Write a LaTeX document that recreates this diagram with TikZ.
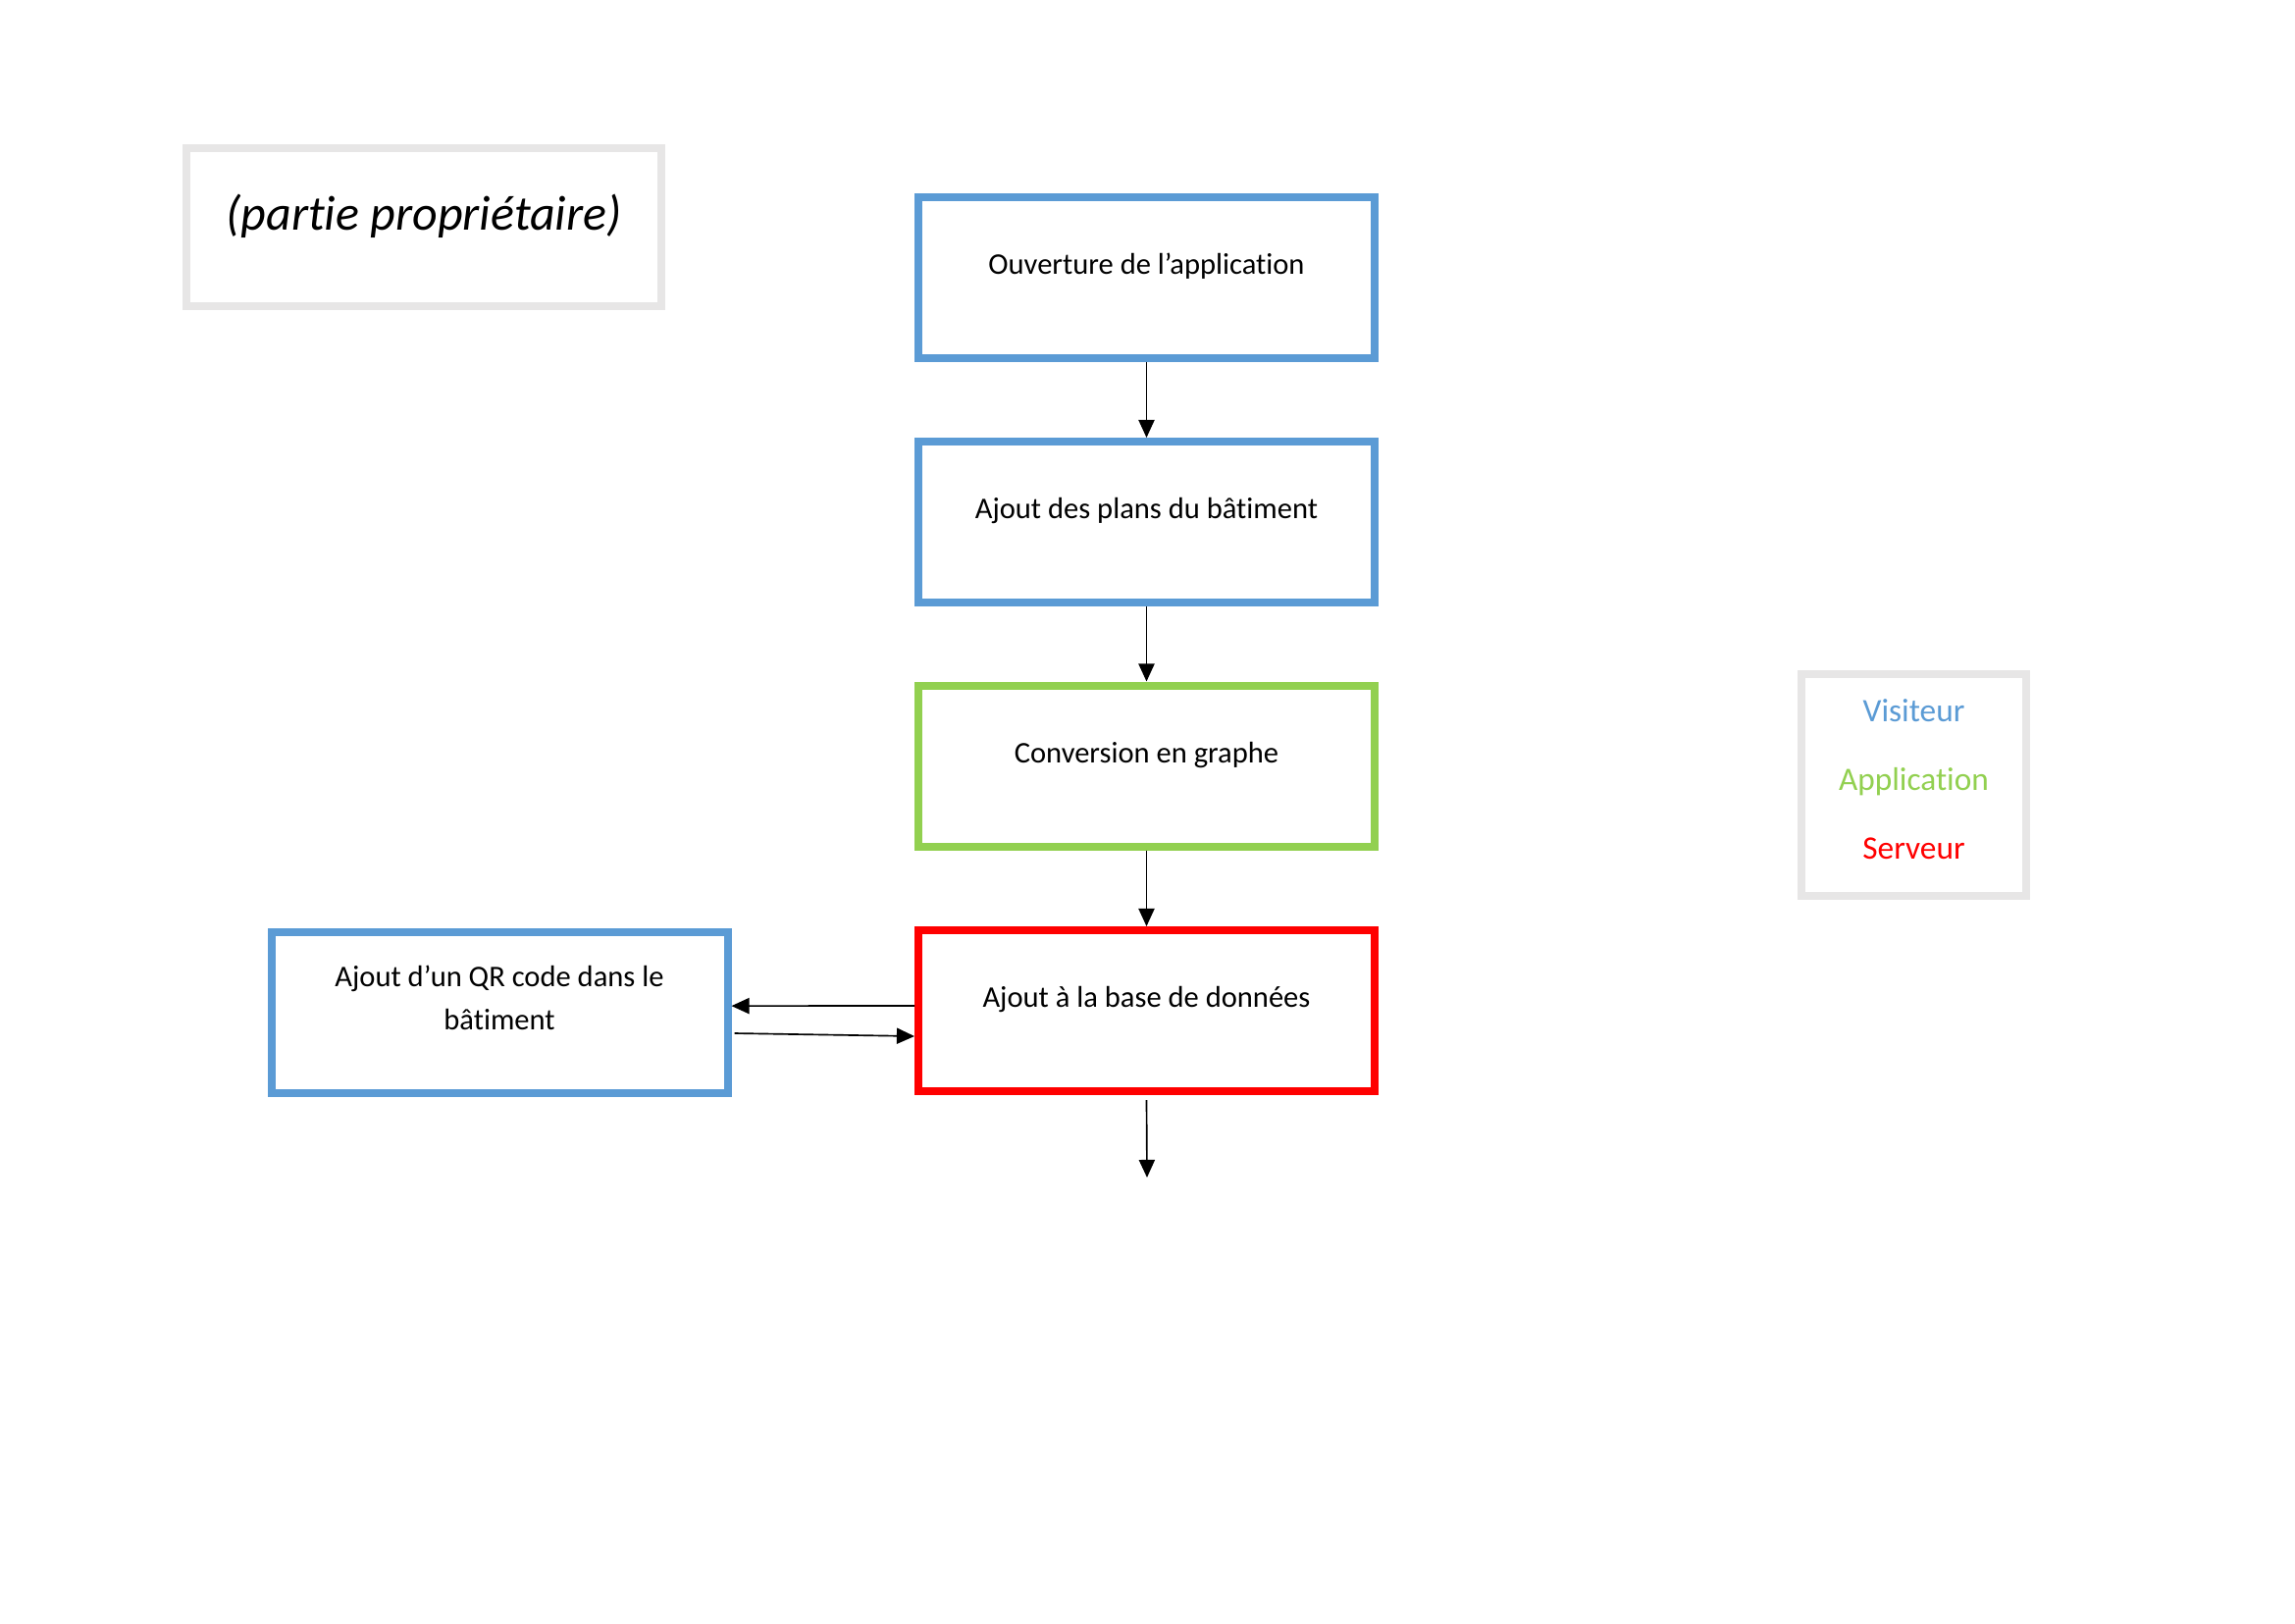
\documentclass[tikz,border=0pt]{standalone}
\usepackage{fontspec}
\setmainfont{Carlito}[Ligatures={NoCommon,NoContextual,NoRare},Contextuals=NoAlternate]
\usetikzlibrary{arrows.meta}
\definecolor{vblue}{HTML}{5B9BD5}
\definecolor{agreen}{HTML}{92D050}
\definecolor{sred}{HTML}{FF0000}
\definecolor{lgrey}{HTML}{E7E6E6}
\begin{document}
\begin{tikzpicture}[x=0.36pt,y=-0.36pt,
  flowbox/.style={draw, line width=2.88pt, fill=white, minimum width=167.4pt, minimum height=59.04pt,
    inner sep=0pt, font=\fontsize{11}{13.4}\selectfont, text height=8pt, text depth=10.4pt},
  arr/.style={-{Triangle[width=5.8pt,length=6.5pt]}, line width=0.6pt, black}]
\useasboundingbox (0,0) rectangle (2339,1654);
\fill[white] (0,0) rectangle (2339,1654);

% title box
\node[draw=lgrey, line width=3pt, minimum width=174.2pt, minimum height=58pt, inner sep=0pt,
  font=\fontsize{18}{21.6}\selectfont\itshape, text height=7.2pt, text depth=5pt]
  (title) at (432,231.5) {(partie propriétaire)};

% flow
\node[flowbox, draw=vblue] (open) at (1168.5,283) {Ouverture de l’application};
\node[flowbox, draw=vblue] (plans) at (1168.5,532) {Ajout des plans du bâtiment};
\node[flowbox, draw=agreen] (graph) at (1168.5,780.5) {Conversion en graphe};
\node[flowbox, draw=sred] (db) at (1168.5,1030) {Ajout à la base de données};
\node[flowbox, draw=vblue, text height=16pt, text depth=3pt] (qr) at (509,1031.5)
  {\fontsize{11}{15.84}\selectfont\begin{tabular}[b]{@{}c@{}}Ajout d’un QR code dans le\\ bâtiment\end{tabular}};

% legend
\node[draw=lgrey, line width=2.88pt, minimum width=82.4pt, minimum height=81.4pt, inner sep=0pt,
  text height=57pt, text depth=3pt] (legend) at (1950.5,800)
  {\fontsize{12}{25.2}\selectfont\begin{tabular}[b]{@{}c@{}}\textcolor{vblue}{Visiteur}\\ \textcolor{agreen}{Application}\\ \textcolor{sred}{Serveur}\end{tabular}};

\coordinate (end) at (1169,1200);

\draw[arr] (open.south) -- (plans.north);
\draw[arr] (plans.south) -- (graph.north);
\draw[arr] (graph.south) -- (db.north);
\draw[arr] ([yshift=1.8pt]db.west) -- ([yshift=2.3pt]qr.east);
\draw[arr] ([xshift=1.1pt,yshift=-7.74pt]qr.east) -- ([yshift=-9.36pt]db.west);
\draw[arr] ([yshift=-1.8pt]db.south) -- (end);
\end{tikzpicture}
\end{document}
